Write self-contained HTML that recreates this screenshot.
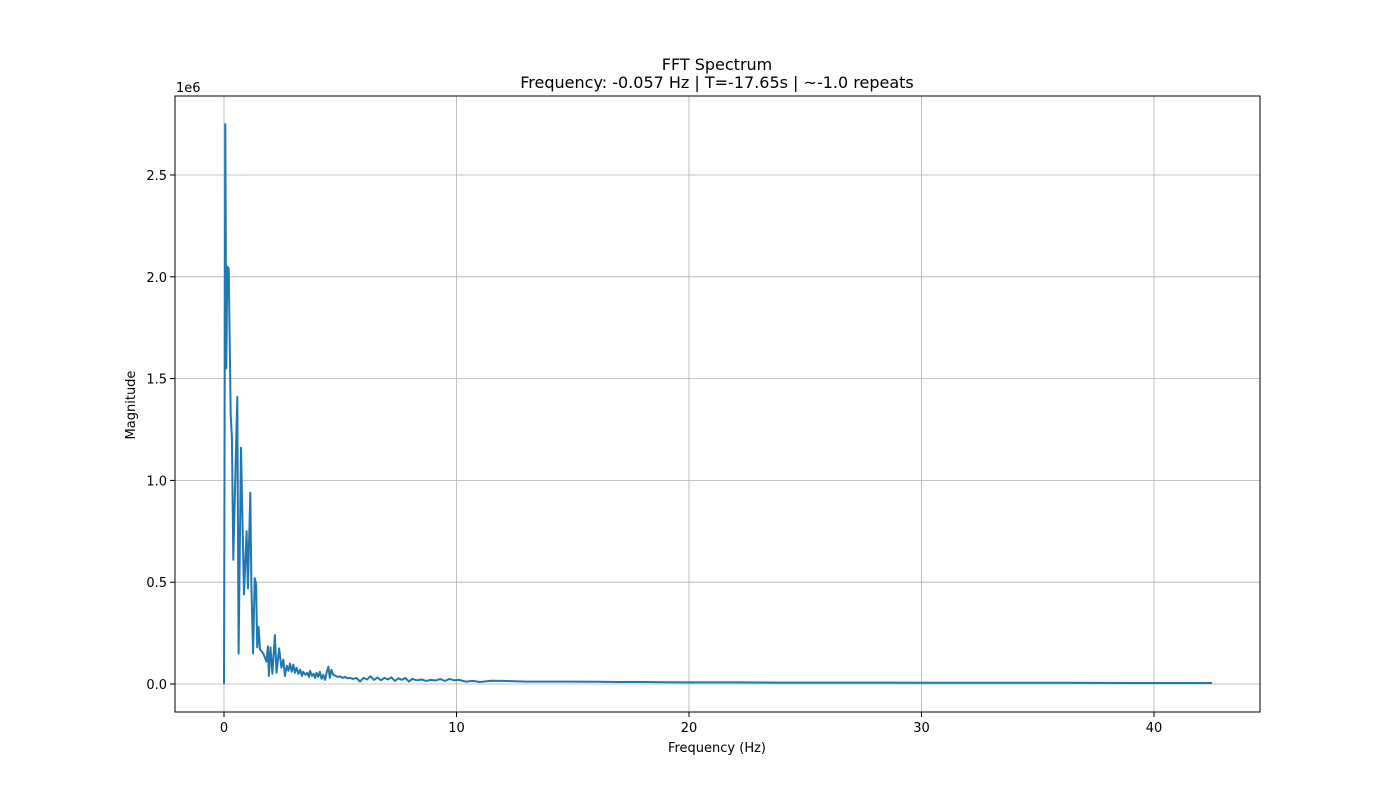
<!DOCTYPE html>
<html><head><meta charset="utf-8"><style>
body{margin:0;background:#fff}
text{font-family:"DejaVu Sans","Liberation Sans",sans-serif;fill:#000}
</style></head><body>
<svg id="chart" width="1400" height="800" xmlns="http://www.w3.org/2000/svg">
<rect width="1400" height="800" fill="#fff"/>
<text x="717" y="70" font-size="16" text-anchor="middle">FFT Spectrum</text>
<text x="717" y="88" font-size="16" text-anchor="middle">Frequency: -0.057 Hz | T=-17.65s | ~-1.0 repeats</text>
<g id="grid"></g>
<g id="ticks"></g>
<path id="line" fill="none" stroke="#1f77b4" stroke-width="2" stroke-linejoin="round"/>
<rect x="175" y="96" width="1085" height="616" fill="none" stroke="#000" stroke-width="1"/>
<text x="176" y="92" font-size="13">1e6</text>
<text x="717" y="752" font-size="13" text-anchor="middle">Frequency (Hz)</text>
<text x="135" y="405" font-size="13" text-anchor="middle" transform="rotate(-90 135 405)">Magnitude</text>
</svg>
<script>
const xTicks=[0,10,20,30,40];
const yTicks=[0,0.5,1.0,1.5,2.0,2.5];
const yTickLabels=["0.0","0.5","1.0","1.5","2.0","2.5"];
const freqs=[0,0.057,0.1,0.14,0.2,0.29,0.34,0.40,0.57,0.63,0.73,0.86,0.97,1.03,1.13,1.18,1.25,1.32,1.38,1.43,1.49,1.55,1.69,1.83,1.89,1.93,2.0,2.08,2.19,2.26,2.37,2.47,2.55,2.62,2.7,2.77,2.84,2.91,2.98,3.05,3.12,3.2,3.28,3.35,3.41,3.5,3.58,3.65,3.7,3.78,3.85,3.92,3.98,4.05,4.12,4.2,4.27,4.35,4.42,4.49,4.55,4.62,4.7,4.8,4.9,4.99,5.1,5.2,5.3,5.42,5.55,5.7,5.85,6.0,6.15,6.3,6.45,6.6,6.75,6.9,7.05,7.2,7.35,7.5,7.65,7.8,7.95,8.1,8.3,8.5,8.7,8.9,9.1,9.3,9.5,9.7,9.9,10.1,10.4,10.7,11.0,11.5,12,13,14,15,16,17,18,19,20,21,22,24,26,28,30,33,36,39,42.5];
const mags=[0,2.75,1.55,2.05,2.04,1.32,1.21,0.61,1.41,0.15,1.16,0.44,0.75,0.47,0.94,0.48,0.15,0.52,0.49,0.18,0.28,0.17,0.15,0.11,0.185,0.04,0.18,0.05,0.24,0.055,0.175,0.08,0.12,0.04,0.09,0.065,0.1,0.06,0.095,0.055,0.08,0.05,0.07,0.04,0.06,0.045,0.055,0.035,0.065,0.04,0.05,0.03,0.055,0.035,0.06,0.025,0.045,0.02,0.06,0.085,0.03,0.07,0.045,0.04,0.035,0.038,0.03,0.035,0.028,0.03,0.025,0.03,0.012,0.03,0.022,0.038,0.02,0.032,0.018,0.03,0.022,0.033,0.015,0.028,0.02,0.03,0.012,0.025,0.018,0.022,0.015,0.02,0.017,0.024,0.015,0.025,0.018,0.02,0.012,0.015,0.01,0.016,0.015,0.012,0.012,0.012,0.011,0.01,0.01,0.009,0.008,0.008,0.008,0.007,0.007,0.007,0.006,0.006,0.006,0.005,0.005];
const L=175,R=1260,T=96,B=712;
const xs=f=>224+f*23.25;
const ys=v=>684-v*203.6;
const NS="http://www.w3.org/2000/svg";
const g=document.getElementById('grid'),tk=document.getElementById('ticks');
function mk(tag,attrs,parent){const e=document.createElementNS(NS,tag);for(const k in attrs)e.setAttribute(k,attrs[k]);parent.appendChild(e);return e;}
xTicks.forEach(t=>{
  const x=xs(t);
  const gl=mk('line',{x1:x,x2:x,y1:T,y2:B,stroke:'#b0b0b0','stroke-width':0.8},g);
  
  
  const tl=mk('line',{x1:x,x2:x,y1:B,y2:B+5,stroke:'#000'},tk);
  
  
  const tx=mk('text',{x:x,y:B+20,'font-size':13,'text-anchor':'middle'},tk);
  tx.textContent=t;
  
  
});
yTicks.forEach((t,i)=>{
  const y=ys(t);
  const gl=mk('line',{x1:L,x2:R,y1:y,y2:y,stroke:'#b0b0b0','stroke-width':0.8},g);
  
  
  const tl=mk('line',{x1:L-5,x2:L,y1:y,y2:y,stroke:'#000'},tk);
  
  
  const tx=mk('text',{x:L-8,y:y+5,'font-size':13,'text-anchor':'end'},tk);
  tx.textContent=yTickLabels[i];
  
  
});
document.getElementById('line').setAttribute('d',freqs.map((f,i)=>(i?'L':'M')+xs(f).toFixed(1)+' '+ys(mags[i]).toFixed(1)).join(' '));
</script>
</body></html>
